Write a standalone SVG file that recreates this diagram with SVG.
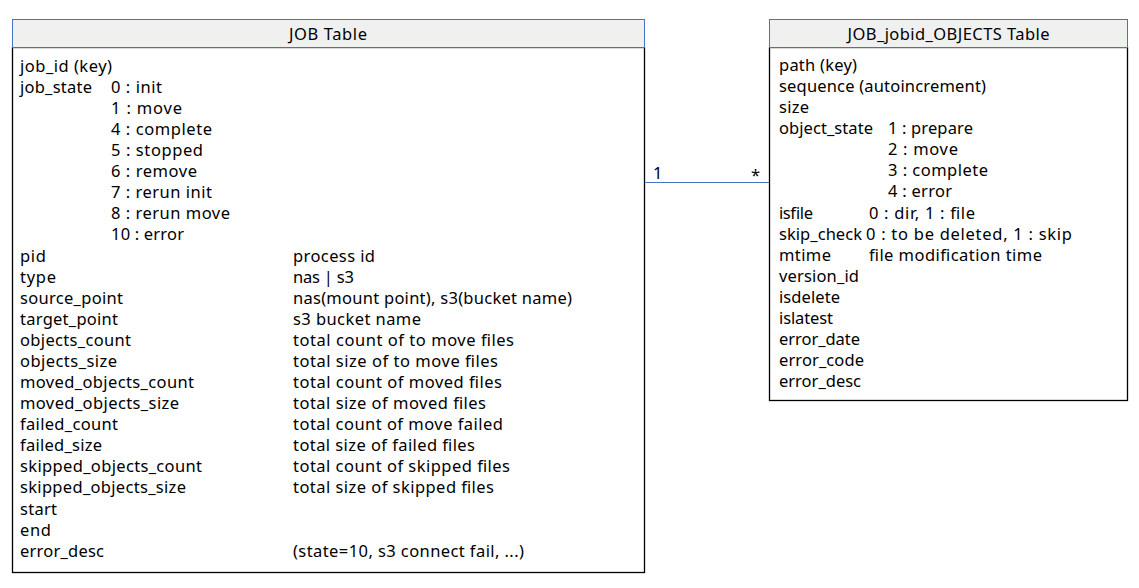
<svg xmlns="http://www.w3.org/2000/svg" width="1139" height="588" viewBox="0 0 1139 588">
<style>
text{font-family:"Noto Sans","Liberation Sans",sans-serif;font-size:16.5px;fill:#000}
.hdr{fill:#f0f0f0;stroke:#4472c4;stroke-width:1}
.body{fill:#fff;stroke:#000;stroke-width:1.3}
.c{text-anchor:middle}
</style>
<rect width="1139" height="588" fill="#fff"/>
<g id="job_table">
<rect class="body" x="12.5" y="47.5" width="632" height="525"/>
<rect class="hdr" x="12.5" y="19.5" width="632" height="28"/>
<text class="c" x="328" y="40" textLength="78">JOB Table</text>
<text x="20" y="72" textLength="92">job_id (key)</text>
<text x="20" y="93" textLength="72">job_state</text>
<text x="111" y="93" textLength="51">0 : init</text>
<text x="111" y="114" textLength="71">1 : move</text>
<text x="111" y="135" textLength="101">4 : complete</text>
<text x="111" y="156" textLength="92">5 : stopped</text>
<text x="111" y="177" textLength="86">6 : remove</text>
<text x="111" y="198" textLength="101">7 : rerun init</text>
<text x="111" y="219" textLength="119">8 : rerun move</text>
<text x="111" y="240" textLength="73">10 : error</text>
<text x="20" y="262" textLength="26">pid</text><text x="293" y="262" textLength="82">process id</text>
<text x="20" y="283" textLength="36">type</text><text x="293" y="283" textLength="61">nas | s3</text>
<text x="20" y="304" textLength="103">source_point</text><text x="293" y="304" textLength="279">nas(mount point), s3(bucket name)</text>
<text x="20" y="325" textLength="98">target_point</text><text x="293" y="325" textLength="128">s3 bucket name</text>
<text x="20" y="346" textLength="111">objects_count</text><text x="293" y="346" textLength="221">total count of to move files</text>
<text x="20" y="367" textLength="97">objects_size</text><text x="293" y="367" textLength="205">total size of to move files</text>
<text x="20" y="388" textLength="174">moved_objects_count</text><text x="293" y="388" textLength="209">total count of moved files</text>
<text x="20" y="409" textLength="159">moved_objects_size</text><text x="293" y="409" textLength="193">total size of moved files</text>
<text x="20" y="430" textLength="98">failed_count</text><text x="293" y="430" textLength="210">total count of move failed</text>
<text x="20" y="451" textLength="82">failed_size</text><text x="293" y="451" textLength="182">total size of failed files</text>
<text x="20" y="472" textLength="182">skipped_objects_count</text><text x="293" y="472" textLength="217">total count of skipped files</text>
<text x="20" y="493" textLength="166">skipped_objects_size</text><text x="293" y="493" textLength="201">total size of skipped files</text>
<text x="20" y="515" textLength="37">start</text>
<text x="20" y="536" textLength="31">end</text>
<text x="20" y="557" textLength="84">error_desc</text><text x="293" y="557" textLength="231">(state=10, s3 connect fail, ...)</text>
</g>
<g id="objects_table">
<rect class="body" x="769.5" y="47.5" width="358" height="353"/>
<rect class="hdr" x="769.5" y="19.5" width="358" height="28"/>
<text class="c" x="948.5" y="40" textLength="202">JOB_jobid_OBJECTS Table</text>
<text x="779" y="71" textLength="78">path (key)</text>
<text x="779" y="92" textLength="207">sequence (autoincrement)</text>
<text x="779" y="113" textLength="30">size</text>
<text x="779" y="134" textLength="94">object_state</text>
<text x="888" y="134" textLength="85">1 : prepare</text>
<text x="888" y="155" textLength="70">2 : move</text>
<text x="888" y="176" textLength="100">3 : complete</text>
<text x="888" y="197" textLength="64">4 : error</text>
<text x="779" y="219" textLength="34">isfile</text><text x="869" y="219" textLength="106">0 : dir, 1 : file</text>
<text x="779" y="240" textLength="83">skip_check</text><text x="866" y="240" textLength="206">0 : to be deleted, 1 : skip</text>
<text x="779" y="261" textLength="52">mtime</text><text x="869" y="261" textLength="173">file modification time</text>
<text x="779" y="282" textLength="80">version_id</text>
<text x="779" y="303" textLength="61">isdelete</text>
<text x="779" y="324" textLength="54">islatest</text>
<text x="779" y="345" textLength="81">error_date</text>
<text x="779" y="366" textLength="85">error_code</text>
<text x="779" y="387" textLength="82">error_desc</text>
</g>
<g id="connectors">
<line x1="645" y1="182.5" x2="769" y2="182.5" stroke="#4472c4" stroke-width="1"/>
<text x="653" y="179">1</text>
<text x="751" y="181">*</text>
</g>
</svg>
